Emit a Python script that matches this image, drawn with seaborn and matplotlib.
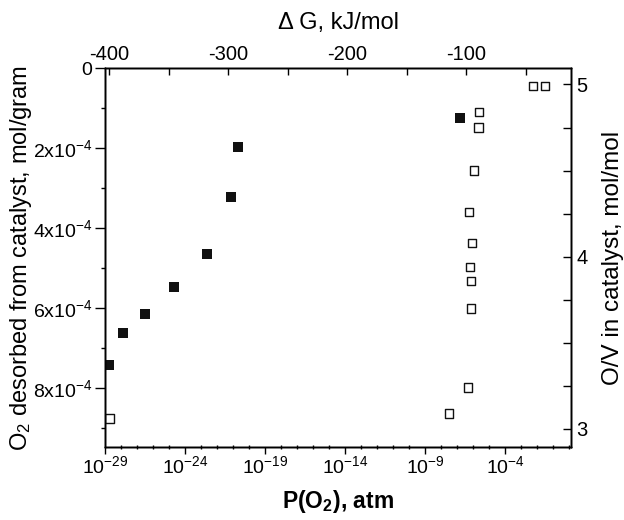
import matplotlib
matplotlib.use('Agg')
import matplotlib.pyplot as plt
import matplotlib.ticker as mticker
import seaborn as sns

# filled squares: P(O2), atm vs O2 desorbed from catalyst (left axis)
p_desorbed = [1.86e-29, 1.38e-28, 3.16e-27, 2.14e-25, 2.29e-23, 7.9e-22, 2.14e-21, 1.55e-7]
o2_desorbed = [7.41e-4, 6.62e-4, 6.15e-4, 5.455e-4, 4.645e-4, 3.205e-4, 1.955e-4, 1.245e-4]

# open squares: P(O2), atm vs O/V in catalyst (right axis)
p_ov = [5.6e-3, 3.2e-2, 2.45e-6, 2.14e-6, 1.15e-6, 5.6e-7, 8.3e-7, 6.5e-7,
        7.5e-7, 7.5e-7, 4.7e-7, 3.2e-8, 1.9e-29]
o_v_ratio = [4.99, 4.99, 4.84, 4.75, 4.50, 4.26, 4.08, 3.94, 3.86, 3.70, 3.24, 3.09, 3.06]

p_tick_exp = [-29, -24, -19, -14, -9, -4]
desorbed_ticks = [0, 2e-4, 4e-4, 6e-4, 8e-4]
ov_ticks = [3, 4, 5]
dg_ticks = [-400, -300, -200, -100]

sns.set_style('ticks')
plt.rcParams['font.family'] = ['Liberation Sans', 'DejaVu Sans']
plt.rcParams['mathtext.fontset'] = 'custom'
plt.rcParams['mathtext.rm'] = 'Liberation Sans'
plt.rcParams['mathtext.it'] = 'Liberation Sans:italic'
plt.rcParams['mathtext.bf'] = 'Liberation Sans:bold'
plt.rcParams['axes.unicode_minus'] = False
plt.rcParams['axes.linewidth'] = 1.0
for key in ('text.color', 'axes.labelcolor', 'axes.edgecolor',
            'xtick.color', 'ytick.color'):
    plt.rcParams[key] = 'black'

fig = plt.figure(figsize=(6.24, 5.2), dpi=100)
ax = fig.add_axes([0.1683, 0.1404, 0.7468, 0.7279])
ax.set_xscale('log')

sns.scatterplot(x=p_desorbed, y=o2_desorbed, ax=ax, marker='s', s=62,
                color='#111111', linewidth=0, zorder=3)

ax.set_xlim(1e-29, 10 ** 0.12)
ax.set_ylim(9.47e-4, 0)
ax.xaxis.set_major_locator(mticker.FixedLocator([10.0 ** e for e in p_tick_exp]))
ax.xaxis.set_major_formatter(mticker.FixedFormatter(
    [r'$\mathregular{10^{%d}}$' % e for e in p_tick_exp]))
ax.xaxis.set_minor_locator(mticker.LogLocator(base=10, subs=(1.0,), numticks=100))
ax.xaxis.set_minor_formatter(mticker.NullFormatter())
ax.set_yticks(desorbed_ticks)
ax.yaxis.set_major_formatter(mticker.FuncFormatter(
    lambda v, _: '0' if v == 0 else r'$\mathregular{%dx10^{-4}}$' % round(v * 1e4)))
ax.yaxis.set_minor_locator(mticker.MultipleLocator(1e-4))
ax.tick_params(axis='x', which='major', direction='out', length=5, width=1,
               labelsize=14, pad=1, top=False)
ax.tick_params(axis='x', which='minor', direction='inout', length=3, width=1, top=False)
ax.tick_params(axis='y', which='major', direction='out', length=7, width=1,
               labelsize=14, pad=2, right=False)
ax.tick_params(axis='y', which='minor', direction='out', length=3, width=1, right=False)
ax.set_xlabel(r'P(O$_\mathbf{2}$), atm', fontsize=16.5, fontweight='bold', labelpad=8)
ax.set_ylabel(r'O$_\mathregular{2}$ desorbed from catalyst, mol/gram', fontsize=17,
              labelpad=-1)

# right axis: O/V ratio
ax_r = ax.twinx()
sns.scatterplot(x=p_ov, y=o_v_ratio, ax=ax_r, marker='s', s=36,
                facecolor='none', edgecolor='#111111', linewidth=1.0, zorder=3)
ax_r.set_ylim(2.895, 5.093)
ax_r.set_yticks(ov_ticks)
ax_r.yaxis.set_minor_locator(mticker.MultipleLocator(0.25))
ax_r.tick_params(axis='y', which='both', direction='in', length=6, width=1,
                 labelsize=14.5, pad=4)
ax_r.set_ylabel('O/V in catalyst, mol/mol', fontsize=17.5, labelpad=10)

# top axis: Gibbs energy
ax_t = ax.twiny()
ax_t.set_xlim(-403.4, -11.8)
ax_t.set_xticks(dg_ticks)
ax_t.xaxis.set_minor_locator(mticker.MultipleLocator(50))
ax_t.tick_params(axis='x', which='both', direction='in', length=5, width=1,
                 labelsize=14.5, pad=3)
ax_t.set_xlabel('\u0394 G, kJ/mol', fontsize=17, labelpad=12)

for a in (ax, ax_r, ax_t):
    for sp in a.spines.values():
        sp.set_visible(True)
        sp.set_linewidth(1.0)

fig.savefig('out.png', dpi=100)
